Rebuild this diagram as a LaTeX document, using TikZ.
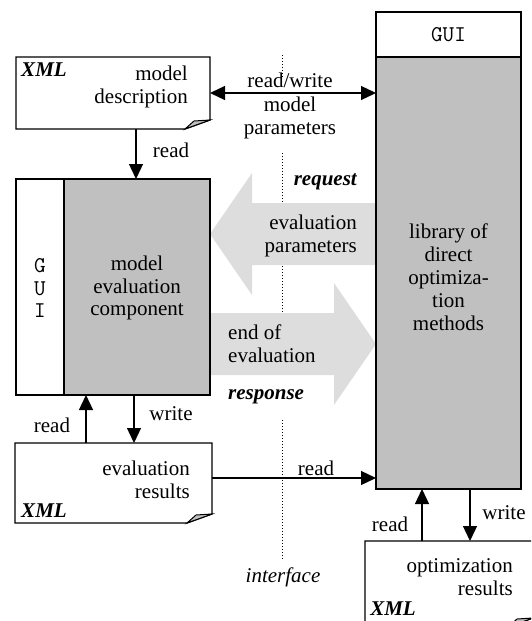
\documentclass[tikz,border=0pt]{standalone}
\usepackage{fontspec}
\setmainfont{Liberation Serif}
\usetikzlibrary{arrows.meta,calc}
\definecolor{boxgray}{HTML}{C0C0C0}
\definecolor{arrgray}{HTML}{DDDDDD}
\newcommand\mydoc[1]{%
  \filldraw[docline] (#1.north west) -- (#1.north east) -- ([yshift=9pt]#1.south east)
     -- ([xshift=-25pt]#1.south east) -- (#1.south west) -- cycle;
  \filldraw[foldline] ([xshift=-25pt]#1.south east) -- ([xshift=-16pt,yshift=8pt]#1.south east)
     -- ([yshift=9pt]#1.south east) -- cycle;}
\tikzset{
  every node/.style={font=\fontsize{21}{23}\selectfont},
  area/.style={rectangle, inner sep=0pt, outer sep=0pt},
  docline/.style={line width=1.3pt, fill=white, line join=miter},
  foldline/.style={line width=1pt, fill=boxgray},
  whitebox/.style={area, draw, line width=1.3pt, fill=white},
  graybox/.style={area, draw, line width=1.3pt, fill=boxgray},
  arr/.style={line width=1.3pt, -{Triangle[length=15pt,width=14pt]}},
  dblarr/.style={line width=1.3pt, {Triangle[length=15pt,width=14pt]}-{Triangle[length=15pt,width=14pt]}},
  bigarr/.style={fill=arrgray, draw=none},
  lbl/.style={inner sep=0pt},
  monolbl/.style={inner sep=0pt, font=\fontsize{22.5}{22.5}\selectfont\ttfamily},
  xmllbl/.style={inner sep=0pt, font=\fontsize{21}{23}\selectfont\bfseries\itshape},
  dotline/.style={line width=1pt, dash pattern=on 1pt off 2pt},
}
\begin{document}
\begin{tikzpicture}[x=1pt,y=-1pt]
\useasboundingbox (0,0) rectangle (531,621);

% dotted interface line
\draw[dotline] (282,55) -- (282,77);
\draw[dotline] (282,153) -- (282,203);
\draw[dotline] (282,266) -- (282,312);
\draw[dotline] (282,420) -- (282,560);

% big arrows
\fill[bigarr] (376,203) -- (252,203) -- (252,173) -- (210,234) -- (252,295) -- (252,265) -- (376,265) -- cycle;
\fill[bigarr] (210,313) -- (334,313) -- (334,283) -- (376,344) -- (334,405) -- (334,375) -- (210,375) -- cycle;

% library
\node[whitebox, minimum width=145pt, minimum height=45pt] (libgui) at (448.5,34.5) {};
\node[monolbl] (libguitxt) at (448.5,34.5) {GUI};
\node[graybox, minimum width=145pt, minimum height=432pt] (lib) at (448.5,273) {};
\node[lbl, align=center] (libtxt) at (448.5,277) {library of\\direct\\optimiza-\\tion\\methods};

% model evaluation component
\node[whitebox, minimum width=48pt, minimum height=216pt] (evalgui) at (40,287) {};
\node[graybox, minimum width=146pt, minimum height=216pt] (evalmain) at (137,287) {};
\node[monolbl, align=center] (guiv) at (40,288) {G\\U\\I};
\node[lbl, align=center, font=\fontsize{21}{22.5}\selectfont] (evaltxt) at (137,288) {model\\evaluation\\component};

% model description document
\node[area, minimum width=194pt, minimum height=72pt] (md) at (113,93) {};
\mydoc{md}
\node[xmllbl] (mdxml) at (44,70) {XML};
\node[lbl, align=right, anchor=east] (mdtxt) at (188,87) {model\\description};

% evaluation results document
\node[area, minimum width=197pt, minimum height=80pt] (er) at (113.5,483) {};
\mydoc{er}
\node[xmllbl] (erxml) at (44,511) {XML};
\node[lbl, align=right, anchor=east] (ertxt) at (190,480) {evaluation\\results};

% optimization results document (clipped)
\begin{scope}
\clip (0,0) rectangle (531,621);
\node[area, minimum width=168pt, minimum height=86pt] (opt) at (449,584) {};
\mydoc{opt}
\end{scope}
\node[xmllbl] (optxml) at (393,609) {XML};
\node[lbl, align=right, anchor=east] (opttxt) at (513,577) {optimization\\results};

% connectors
\draw[dblarr] (md.east) -- (md.east -| lib.west);
\draw[arr] ([xshift=23pt]md.south) -- ([xshift=23pt]md.south |- evalmain.north);
\draw[arr] ([xshift=-51pt]evalmain.south |- er.north) -- ([xshift=-51pt]evalmain.south);
\draw[arr] ([xshift=-3pt]evalmain.south) -- ([xshift=-3pt]evalmain.south |- er.north);
\draw[arr] ([yshift=5pt]er.east) -- ([yshift=5pt]er.east -| lib.west);
\draw[arr] ([xshift=-26.5pt]lib.south |- opt.north) -- ([xshift=-26.5pt]lib.south);
\draw[arr] ([xshift=21.5pt]lib.south) -- ([xshift=21.5pt]lib.south |- opt.north);

% labels
\node[lbl] (rw1) at (290,80) {read/write};
\node[lbl, align=center] (rw2) at (290,118) {model\\parameters};
\node[lbl] (rd1) at (171,150) {read};
\node[lbl, anchor=east] (req) at (357,182) {\bfseries\itshape request};
\node[lbl, align=right, anchor=east] (evp) at (357,236) {evaluation\\parameters};
\node[lbl, align=left, anchor=west] (eoe) at (228,344) {end of\\evaluation};
\node[lbl, anchor=west] (resp) at (228,397) {\bfseries\itshape response};
\node[lbl] (rd2) at (52,425) {read};
\node[lbl] (wr1) at (171,414) {write};
\node[lbl] (rd3) at (316,468) {read};
\node[lbl] (rd4) at (390,524) {read};
\node[lbl] (wr2) at (504,513) {write};
\node[lbl] (intf) at (283,577) {\itshape interface};
\end{tikzpicture}
\end{document}
